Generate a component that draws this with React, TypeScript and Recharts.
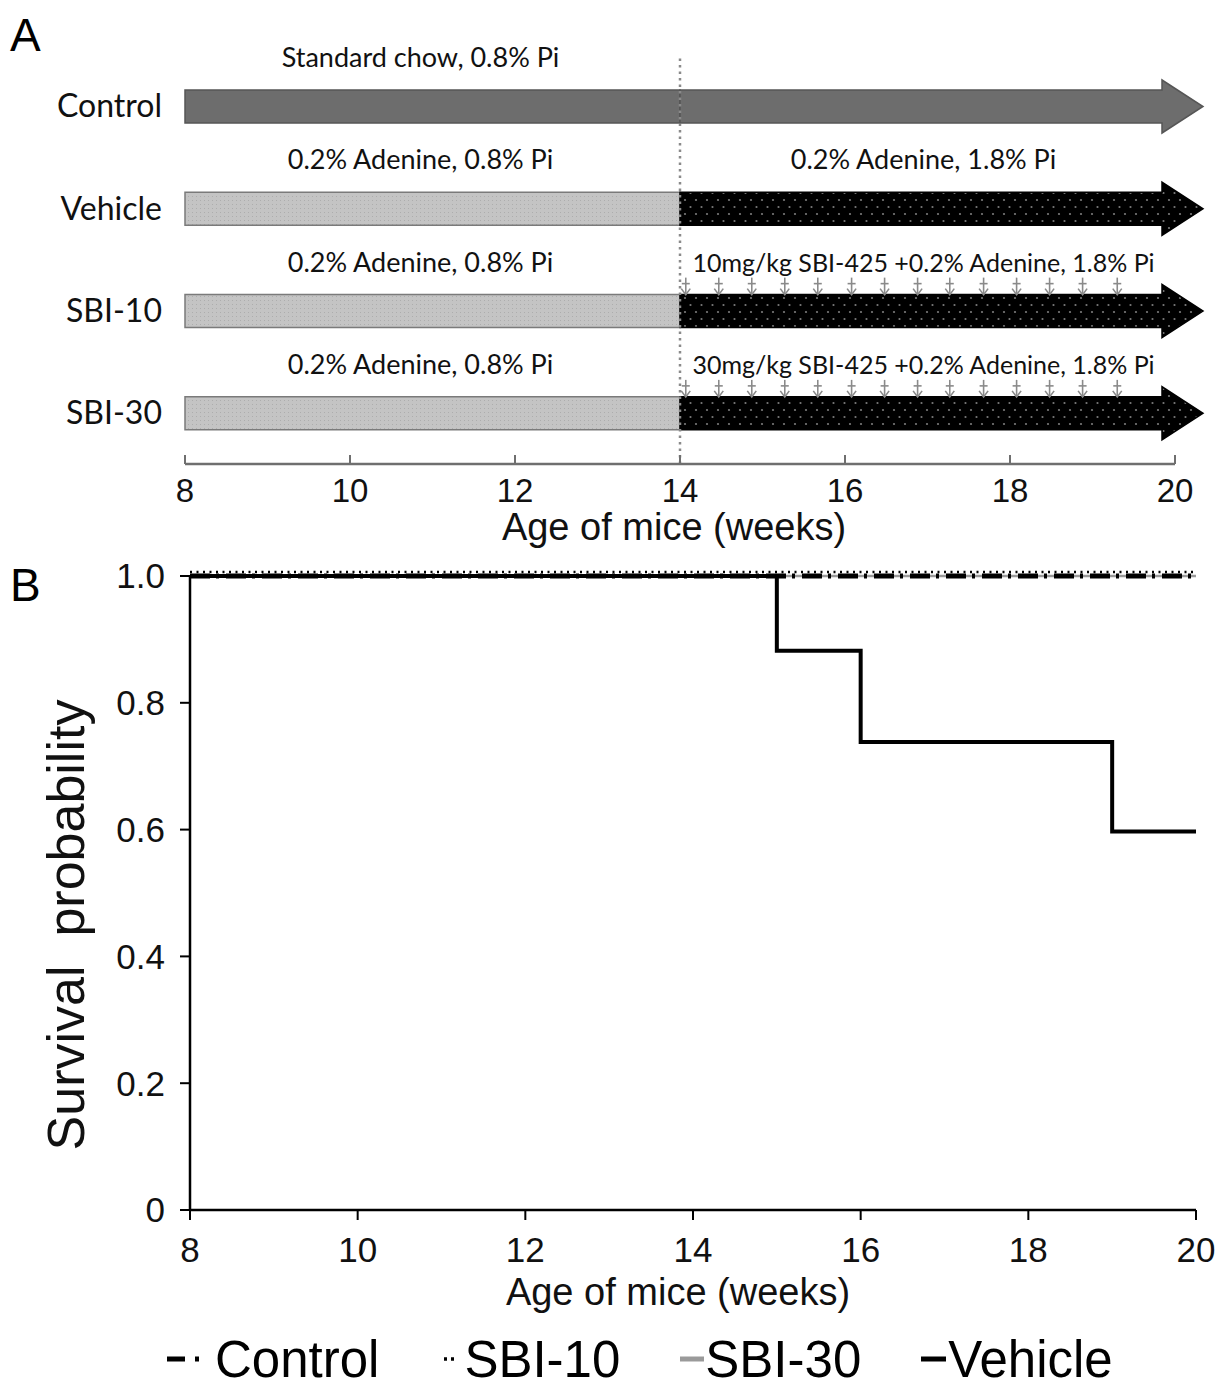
import React from "react";
import {
  ComposedChart,
  Bar,
  XAxis,
  YAxis,
  ReferenceLine,
  ReferenceDot,
  LineChart,
  Line,
  Legend,
} from "recharts";

// ---- panel A: study design ----
const groups = ["Control", "Vehicle", "SBI-10", "SBI-30"];
const phase1Weeks = [[8, 14], [8, 14], [8, 14], [8, 14]];
const phase2Weeks = [[14, 20], [14, 20], [14, 20], [14, 20]];
const phase1Diets = [
  "Standard chow, 0.8% Pi",
  "0.2% Adenine, 0.8% Pi",
  "0.2% Adenine, 0.8% Pi",
  "0.2% Adenine, 0.8% Pi",
];
const phase2Diets = [
  "",
  "0.2% Adenine, 1.8% Pi",
  "10mg/kg SBI-425 +0.2% Adenine, 1.8% Pi",
  "30mg/kg SBI-425 +0.2% Adenine, 1.8% Pi",
];
const dosedGroups = ["SBI-10", "SBI-30"];
const doseWeeks = [14.07, 14.47, 14.87, 15.27, 15.67, 16.08, 16.48, 16.88, 17.27, 17.68, 18.08, 18.48, 18.88, 19.3];
const weekTicks = [8, 10, 12, 14, 16, 18, 20];

// ---- panel B: survival ----
const seriesNames = ["Control", "SBI-10", "SBI-30", "Vehicle"];
const vehicleWeeks = [8, 15, 16, 19, 20];
const vehicleSurvival = [1, 0.882, 0.738, 0.597, 0.597];
const flatWeeks = [8, 20];
const controlSurvival = [1, 1];
const sbi10Survival = [1, 1];
const sbi30Survival = [1, 1];
const survivalTicks = [0, 0.2, 0.4, 0.6, 0.8, 1];

const timeline = groups.map((g, i) => ({
  group: g,
  phase1: phase1Weeks[i],
  phase2: phase2Weeks[i],
  diet1: phase1Diets[i],
  diet2: phase2Diets[i],
}));

const toSeries = (weeks: number[], surv: number[]) =>
  weeks.map((w, i) => ({ week: w, survival: surv[i] }));

const lineStyles: Record<string, { stroke: string; width: number; dash?: string; iconW: number; icon: [number, number, string?] }> = {
  Control: { stroke: "#000", width: 5, dash: "20 6 3 7", iconW: 50, icon: [2, 36, "18 10 4 40"] },
  "SBI-10": { stroke: "#000", width: 2.5, dash: "2 4.5", iconW: 25, icon: [5, 16, "3 4"] },
  "SBI-30": { stroke: "#9a9a9a", width: 2.5, iconW: 25, icon: [0, 24] },
  Vehicle: { stroke: "#000", width: 4, iconW: 27, icon: [0, 25] },
};

const calibriLike = "Lato, 'Open Sans', sans-serif";
const arial = "'Liberation Sans', Arial, sans-serif";

function Phase1Bar(props: any) {
  const { x, y, width, height, payload } = props;
  const control = payload.group === "Control";
  return (
    <g>
      <rect
        x={x}
        y={y}
        width={width}
        height={height}
        fill={control ? "#6d6d6d" : "url(#stipple)"}
        stroke={control ? "#565656" : "#7a7a7a"}
        strokeWidth={1.5}
      />
      <text x={x + width / 2 - 12} y={y - 23} textAnchor="middle" fontFamily={calibriLike} fontSize={27} fill="#111">
        {payload.diet1}
      </text>
    </g>
  );
}

function Phase2Arrow(props: any) {
  const { x, y, width, height, payload } = props;
  const control = payload.group === "Control";
  const neck = x + width - 13;
  const tip = x + width + 28;
  const pts = [
    [x, y],
    [neck, y],
    [neck, y - 10],
    [tip, y + height / 2],
    [neck, y + height + 10],
    [neck, y + height],
    [x, y + height],
  ]
    .map((p) => p.join(","))
    .join(" ");
  const label: string = payload.diet2;
  return (
    <g>
      <polygon
        points={pts}
        fill={control ? "#6d6d6d" : "url(#dots)"}
        stroke={control ? "#565656" : "#000"}
        strokeWidth={1.5}
      />
      {label ? (
        <text
          x={x + width / 2 - 4}
          y={y - 23}
          textAnchor="middle"
          fontFamily={calibriLike}
          fontSize={label.length > 24 ? 25 : 27}
          fill="#111"
        >
          {label}
        </text>
      ) : null}
    </g>
  );
}

function DoseArrow(props: any) {
  const { cx, cy } = props;
  const top = cy - 33;
  const tip = cy - 16;
  return (
    <g stroke="#8a8a8a" strokeWidth={1.6} fill="none">
      <line x1={cx} y1={top} x2={cx} y2={tip} />
      <polyline points={`${cx - 4.5},${tip - 6} ${cx},${tip} ${cx + 4.5},${tip - 6}`} />
      <line x1={cx - 4} y1={top + 6} x2={cx + 4} y2={top + 6} />
    </g>
  );
}

const renderUpTick = (props: any) => {
  const { x, y, payload } = props;
  return (
    <g>
      <line x1={x} x2={x} y1={y} y2={y - 9} stroke="#6f6f6f" strokeWidth={2} />
      <text x={x} y={y + 38} textAnchor="middle" fontFamily={arial} fontSize={33} fill="#111">
        {payload.value}
      </text>
    </g>
  );
};

const xTitle = (dx: number, dy: number) => (p: any) => {
  const vb = p.viewBox;
  return (
    <text
      x={vb.x + vb.width / 2 + dx}
      y={vb.y + dy}
      textAnchor="middle"
      fontFamily={arial}
      fontSize={38}
      fill="#111"
    >
      Age of mice (weeks)
    </text>
  );
};

const yTitle = (p: any) => {
  const vb = p.viewBox;
  const cx = vb.x + 65;
  const cy = vb.y + vb.height / 2 + 32;
  return (
    <text
      x={cx}
      y={cy}
      transform={`rotate(-90, ${cx}, ${cy})`}
      textAnchor="middle"
      dy="0.36em"
      fontFamily={arial}
      fontSize={52}
      fill="#111"
      style={{ whiteSpace: "pre" }}
    >
      {"Survival  probability"}
    </text>
  );
};

const renderLegend = () => (
  <div
    style={{
      display: "flex",
      alignItems: "center",
      height: 60,
      paddingLeft: 165,
      fontFamily: arial,
      fontSize: 51,
      lineHeight: 1,
      color: "#000",
    }}
  >
    {seriesNames.map((name) => {
      const s = lineStyles[name];
      return (
        <div key={name} style={{ display: "flex", alignItems: "center", marginRight: 60 }}>
          <svg width={s.iconW} height={20}>
            <line
              x1={s.icon[0]}
              x2={s.icon[1]}
              y1={10}
              y2={10}
              stroke={s.stroke}
              strokeWidth={name === "SBI-10" ? 3.5 : 5}
              strokeDasharray={s.icon[2]}
            />
          </svg>
          <span>{name}</span>
        </div>
      );
    })}
  </div>
);

export default function App() {
  return (
    <div
      style={{
        position: "absolute",
        left: 0,
        top: 0,
        width: 1224,
        height: 1389,
        background: "#fff",
        fontFamily: arial,
        overflow: "hidden",
      }}
    >
      <div style={{ position: "absolute", left: 0, top: 0 }}>
        <ComposedChart
          layout="vertical"
          width={1224}
          height={560}
          data={timeline}
          margin={{ top: 55, right: 49, bottom: 0, left: 0 }}
          barSize={33}
          barGap={-33}
        >
          <defs>
            <pattern id="dots" width="11" height="14" patternUnits="userSpaceOnUse">
              <rect width="11" height="14" fill="#000" />
              <circle cx="3" cy="4" r="1.1" fill="#7a7a7a" />
              <circle cx="8.5" cy="11" r="1.1" fill="#7a7a7a" />
            </pattern>
            <pattern id="stipple" width="4" height="4" patternUnits="userSpaceOnUse">
              <rect width="4" height="4" fill="#c4c4c4" />
              <rect width="1" height="1" fill="#adadad" />
            </pattern>
          </defs>
          <XAxis
            type="number"
            domain={[8, 20]}
            ticks={weekTicks}
            interval={0}
            height={96}
            tickLine={false}
            tickSize={0}
            tickMargin={0}
            axisLine={{ stroke: "#6f6f6f", strokeWidth: 2.5 }}
            tick={renderUpTick}
            label={{ content: xTitle(-6, 76) }}
          />
          <YAxis
            type="category"
            dataKey="group"
            width={185}
            tickLine={false}
            axisLine={false}
            tickSize={0}
            tickMargin={23}
            tick={{ fontSize: 32, fill: "#111", fontFamily: calibriLike }}
          />
          <Bar dataKey="phase1" shape={<Phase1Bar />} isAnimationActive={false} />
          <Bar dataKey="phase2" shape={<Phase2Arrow />} isAnimationActive={false} />
          <ReferenceLine x={14} stroke="#8a8a8a" strokeWidth={2.5} strokeDasharray="2.5 4" />
          {dosedGroups.map((g) =>
            doseWeeks.map((w) => (
              <ReferenceDot key={`${g}-${w}`} x={w} y={g} r={3} shape={<DoseArrow />} />
            ))
          )}
        </ComposedChart>
      </div>

      <div style={{ position: "absolute", left: 10, top: 12, fontSize: 46, lineHeight: 1, color: "#000" }}>A</div>
      <div style={{ position: "absolute", left: 10, top: 562, fontSize: 46, lineHeight: 1, color: "#000" }}>B</div>

      <div style={{ position: "absolute", left: 0, top: 540 }}>
        <LineChart width={1224} height={849} margin={{ top: 36, right: 28, bottom: 0, left: 0 }}>
          <XAxis
            type="number"
            dataKey="week"
            domain={[8, 20]}
            ticks={weekTicks}
            interval={0}
            allowDataOverflow
            height={119}
            tickSize={10}
            tickMargin={17}
            axisLine={{ stroke: "#000", strokeWidth: 2.5 }}
            tickLine={{ stroke: "#000", strokeWidth: 2 }}
            tick={{ fontSize: 35, fill: "#111", fontFamily: arial }}
            label={{ content: xTitle(-15, 95) }}
          />
          <YAxis
            type="number"
            domain={[0, 1]}
            ticks={survivalTicks}
            interval={0}
            width={190}
            tickSize={10}
            tickMargin={15}
            axisLine={{ stroke: "#000", strokeWidth: 2.5 }}
            tickLine={{ stroke: "#000", strokeWidth: 2 }}
            tick={{ fontSize: 35, fill: "#111", fontFamily: arial }}
            tickFormatter={(v: number) => (v === 0 ? "0" : v.toFixed(1))}
            label={{ content: yTitle }}
          />
          <Legend verticalAlign="bottom" align="left" content={renderLegend} wrapperStyle={{ height: 60 }} />
          <Line
            data={toSeries(flatWeeks, sbi30Survival)}
            dataKey="survival"
            name="SBI-30"
            type="stepAfter"
            stroke={lineStyles["SBI-30"].stroke}
            strokeWidth={lineStyles["SBI-30"].width}
            dot={false}
            activeDot={false}
            isAnimationActive={false}
          />
          <Line
            data={toSeries(vehicleWeeks, vehicleSurvival)}
            dataKey="survival"
            name="Vehicle"
            type="stepAfter"
            stroke={lineStyles.Vehicle.stroke}
            strokeWidth={lineStyles.Vehicle.width}
            dot={false}
            activeDot={false}
            isAnimationActive={false}
          />
          <Line
            data={toSeries(flatWeeks, controlSurvival)}
            dataKey="survival"
            name="Control"
            type="stepAfter"
            stroke={lineStyles.Control.stroke}
            strokeWidth={lineStyles.Control.width}
            strokeDasharray={lineStyles.Control.dash}
            dot={false}
            activeDot={false}
            isAnimationActive={false}
          />
          <Line
            data={toSeries(flatWeeks, sbi10Survival)}
            dataKey="survival"
            name="SBI-10"
            type="stepAfter"
            stroke={lineStyles["SBI-10"].stroke}
            strokeWidth={lineStyles["SBI-10"].width}
            strokeDasharray={lineStyles["SBI-10"].dash}
            transform="translate(0,-4)"
            dot={false}
            activeDot={false}
            isAnimationActive={false}
          />
        </LineChart>
      </div>
    </div>
  );
}
